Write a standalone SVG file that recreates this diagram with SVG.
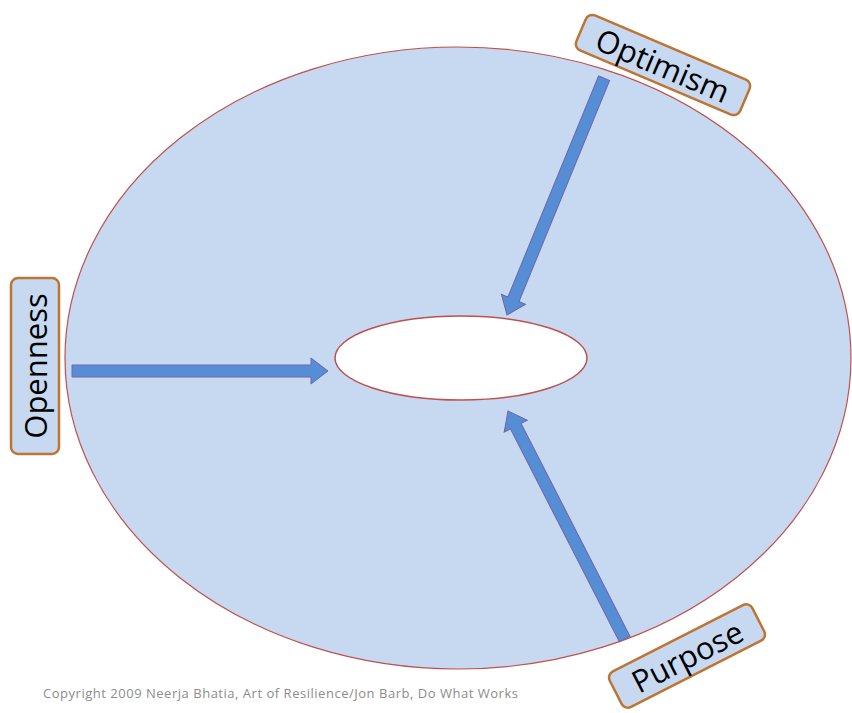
<svg xmlns="http://www.w3.org/2000/svg" width="852" height="713" viewBox="0 0 852 713">
<style>
.lbl{fill:#C6D9F1;stroke:#BE7432;stroke-width:2.5}
.t{font-family:"Open Sans","Liberation Sans",sans-serif;font-size:31px;fill:#000;text-anchor:middle;dominant-baseline:central}
.arr{fill:#558ED5;stroke:#7464A8;stroke-width:1}
</style>
<defs>
<polygon id="arrow" points="-256,-6 -17,-6 -17,-13 0,0 -17,13 -17,6 -256,6"/>
</defs>
<g id="outer"><ellipse cx="458" cy="358" rx="393" ry="311" fill="#C6D9F1" stroke="#C0504D" stroke-width="1.2"/></g>
<g id="inner"><ellipse cx="461" cy="358" rx="126" ry="42" fill="#FFFFFF" stroke="#C0504D" stroke-width="1.5"/></g>
<g id="connectors">
<use href="#arrow" class="arr" transform="translate(328,371)"/>
<use href="#arrow" class="arr" transform="translate(507,315) rotate(112.3)"/>
<use href="#arrow" class="arr" transform="translate(508,411) rotate(-117.1)"/>
</g>
<g id="optimism" transform="translate(663,65) rotate(23)">
<rect class="lbl" x="-89" y="-19" width="178" height="38" rx="7"/>
<text class="t" x="0" y="0">Optimism</text>
</g>
<g id="openness" transform="translate(35,366) rotate(-90)">
<rect class="lbl" x="-88" y="-24" width="176" height="48" rx="7"/>
<text class="t" x="0" y="0">Openness</text>
</g>
<g id="purpose" transform="translate(687,656) rotate(-27)">
<rect class="lbl" x="-80" y="-20" width="160" height="40" rx="7"/>
<text class="t" x="0" y="0">Purpose</text>
</g>
<text x="43" y="698" font-family="'Open Sans','Liberation Sans',sans-serif" font-size="13" fill="#8C8C8C" textLength="475">Copyright 2009 Neerja Bhatia, Art of Resilience/Jon Barb, Do What Works</text>
</svg>
